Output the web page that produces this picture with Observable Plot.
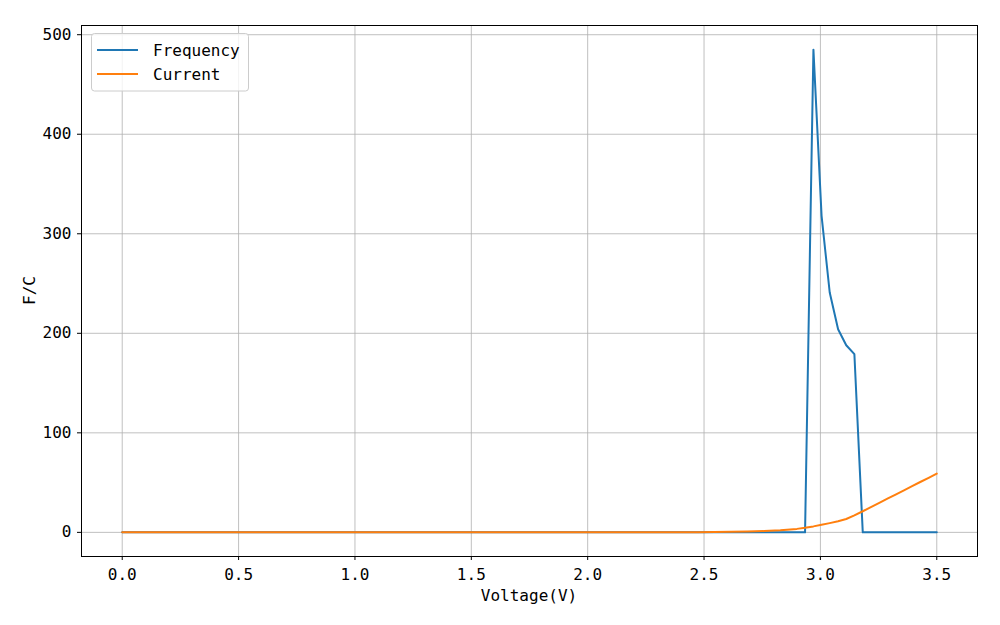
<!DOCTYPE html>
<html>
<head>
<meta charset="utf-8">
<script src="https://cdn.jsdelivr.net/npm/d3@7"></script>
<script src="https://cdn.jsdelivr.net/npm/@observablehq/plot@0.6"></script>
<style>
  html, body { margin: 0; padding: 0; background: #fff; }
  #chart { position: relative; width: 1000px; height: 625px; }
</style>
</head>
<body>
<div id="chart"></div>
<script>
// ---- data ----
const freqVoltage = [0, 2.934, 2.970, 3.005, 3.040, 3.076, 3.111, 3.146, 3.182, 3.5];
const freqValue   = [0, 0, 485, 318, 241, 204, 188, 179, 0, 0];

const currVoltage = [0, 2.404, 2.475, 2.545, 2.616, 2.687, 2.758, 2.828, 2.899, 2.934, 2.970, 3.005, 3.040, 3.076, 3.111, 3.146, 3.182, 3.217, 3.253, 3.288, 3.323, 3.359, 3.394, 3.429, 3.465, 3.5];
const currValue   = [0, 0.1, 0.2, 0.3, 0.5, 0.8, 1.3, 2.1, 3.5, 4.6, 6.0, 7.6, 9.3, 11.2, 13.4, 17.0, 21.2, 25.4, 29.6, 33.8, 38.0, 42.2, 46.4, 50.6, 54.8, 59.0];

const seriesNames = ["Frequency", "Current"];
const seriesColors = ["#1f77b4", "#ff7f0e"];
const xTicks = [0, 0.5, 1.0, 1.5, 2.0, 2.5, 3.0, 3.5];
const yTicks = [0, 100, 200, 300, 400, 500];
const xLabel = "Voltage(V)";
const yLabel = "F/C";

const freqData = freqVoltage.map((v, i) => ({v, y: freqValue[i]}));
const currData = currVoltage.map((v, i) => ({v, y: currValue[i]}));

const FONT = "'DejaVu Sans Mono', monospace";

const plot = Plot.plot({
  width: 1000,
  height: 625,
  marginLeft: 81,
  marginRight: 23,
  marginTop: 25,
  marginBottom: 69,
  style: { fontFamily: FONT, fontSize: "16px", color: "#000", background: "#fff" },
  x: { domain: [-0.175, 3.675] },
  y: { domain: [-24.25, 509.25] },
  marks: [
    Plot.gridX(xTicks, { stroke: "#b0b0b0", strokeOpacity: 1, strokeWidth: 0.8 }),
    Plot.gridY(yTicks, { stroke: "#b0b0b0", strokeOpacity: 1, strokeWidth: 0.8 }),
    Plot.line(freqData, { x: "v", y: "y", stroke: seriesColors[0], strokeWidth: 2 }),
    Plot.line(currData, { x: "v", y: "y", stroke: seriesColors[1], strokeWidth: 2 }),
    Plot.axisX(xTicks, { tickFormat: d => d.toFixed(1), tickSize: 4, tickPadding: 8, label: null, fontSize: 16 }),
    Plot.axisY(yTicks, { tickFormat: d => String(d), tickSize: 4, tickPadding: 6, label: null, fontSize: 16 }),
    Plot.frame({ stroke: "#000", strokeWidth: 1 })
  ]
});

document.getElementById("chart").appendChild(plot);

const svg = d3.select(plot);
// axis titles
svg.append("text")
  .attr("x", 529).attr("y", 601)
  .attr("text-anchor", "middle")
  .attr("font-family", FONT).attr("font-size", 16).attr("fill", "#000")
  .text(xLabel);
svg.append("text")
  .attr("transform", "translate(29,290.5) rotate(-90)")
  .attr("text-anchor", "middle")
  .attr("dominant-baseline", "central")
  .attr("font-family", FONT).attr("font-size", 16).attr("fill", "#000")
  .text(yLabel);

// legend
const lg = svg.append("g").attr("class", "legend");
lg.append("rect")
  .attr("x", 91.5).attr("y", 33.5).attr("width", 157).attr("height", 57.5)
  .attr("rx", 3).attr("fill", "#fff").attr("fill-opacity", 0.8)
  .attr("stroke", "#cccccc").attr("stroke-width", 1);
seriesNames.forEach((name, i) => {
  const cy = 50 + i * 24;
  lg.append("line")
    .attr("x1", 97).attr("x2", 138).attr("y1", cy).attr("y2", cy)
    .attr("stroke", seriesColors[i]).attr("stroke-width", 2);
  lg.append("text")
    .attr("x", 153).attr("y", cy)
    .attr("text-anchor", "start")
    .attr("dominant-baseline", "central")
    .attr("font-family", FONT).attr("font-size", 16).attr("fill", "#000")
    .text(name);
});
</script>
</body>
</html>
